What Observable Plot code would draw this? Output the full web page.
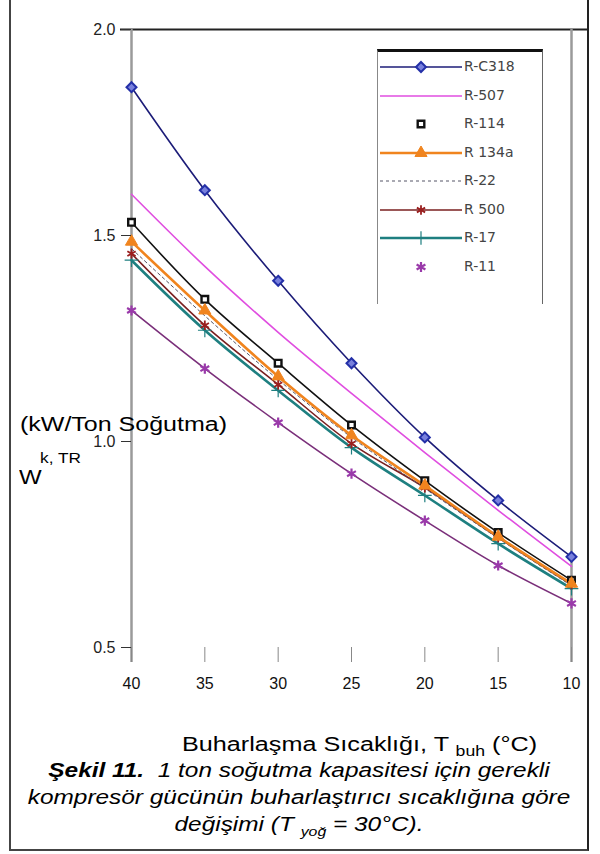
<!DOCTYPE html>
<html>
<head>
<meta charset="utf-8">
<script src="https://cdn.jsdelivr.net/npm/d3@7"></script>
<script src="https://cdn.jsdelivr.net/npm/@observablehq/plot@0.6"></script>
<style>
  html, body { margin: 0; padding: 0; background: #fff; }
  #wrap { position: relative; width: 600px; height: 854px; overflow: hidden; background: #fff; font-family: "Liberation Sans", Arial, sans-serif; }
  #frame { position: absolute; left: 9px; top: 0; width: 576px; height: 849px; border-left: 2px solid #444; border-right: 2px solid #222; border-bottom: 2px solid #444; box-sizing: content-box; }
  #chart { position: absolute; left: 0; top: 0; }
  .lbl { position: absolute; color: #000; white-space: nowrap; transform-origin: 0 0; }
  #legend { position: absolute; left: 377px; top: 49px; width: 164px; height: 252px; border-top: 3px solid #111; border-left: 1.5px solid #888; border-right: 1.5px solid #666; }
  .lg { position: absolute; left: 0; width: 164px; height: 20px; }
  .lg svg { position: absolute; left: 2px; top: 0; }
  .lg span { position: absolute; left: 86px; top: 1px; font-family: "DejaVu Sans", sans-serif; font-size: 14px; color: #444; white-space: nowrap; }
  #caption { position: absolute; left: 10px; width: 578px; top: 757px; text-align: center; font-size: 20px; line-height: 27px; font-style: italic; color: #000; }
  #caption div { white-space: nowrap; transform: scaleX(1.22); transform-origin: 50% 50%; }
</style>
</head>
<body>
<div id="wrap">
  <div id="frame"></div>
  <div id="chart"></div>
  <div id="legend"></div>
  <div class="lbl" style="left:20px; top:413px; font-size:20px; transform:scaleX(1.25);">(kW/Ton Soğutma)</div>
  <div class="lbl" style="left:40px; top:449px; font-size:15px; transform:scaleX(1.15);">k, TR</div>
  <div class="lbl" style="left:19px; top:466px; font-size:20px; transform:scaleX(1.2);">W</div>
  <div class="lbl" style="left:182px; top:733px; font-size:20px; transform:scaleX(1.26);">Buharlaşma Sıcaklığı, T <span style="font-size:14px; position:relative; top:5px;">buh</span> (°C)</div>
  <div id="caption">
    <div><b>Şekil 11.</b>&nbsp; 1 ton soğutma kapasitesi için gerekli</div>
    <div>kompresör gücünün buharlaştırıcı sıcaklığına göre</div>
    <div>değişimi (T <span style="font-size:13px; position:relative; top:5px;">yoğ</span> = 30°C).</div>
  </div>
</div>
<script>
// Evaporator temperatures (°C)
const temps = [-40, -35, -30, -25, -20, -15, -10];
const xTickLabels = ["40", "35", "30", "25", "20", "15", "10"];
const yTicks = [0.5, 1.0, 1.5, 2.0];

// Compressor power per ton of refrigeration (kW/TR)
const rC318 = [1.86, 1.61, 1.39, 1.19, 1.01, 0.857, 0.72];
const r507  = [1.60, 1.425, 1.265, 1.117, 0.973, 0.833, 0.697];
const r114  = [1.532, 1.345, 1.19, 1.04, 0.905, 0.779, 0.663];
const r134a = [1.485, 1.318, 1.158, 1.015, 0.893, 0.769, 0.655];
const r22   = [1.468, 1.305, 1.15, 1.01, 0.886, 0.765, 0.65];
const r500  = [1.456, 1.282, 1.138, 0.995, 0.888, 0.767, 0.653];
const r17   = [1.44, 1.27, 1.124, 0.985, 0.869, 0.752, 0.643];
const r11   = [1.318, 1.177, 1.046, 0.922, 0.808, 0.699, 0.607];

const seriesNames = ["R-C318", "R-507", "R-114", "R 134a", "R-22", "R 500", "R-17", "R-11"];
const seriesValues = [rC318, r507, r114, r134a, r22, r500, r17, r11];

// styles (not data)
const styles = {
  "R-C318": {line: "#1c1c78", width: 1.6, symbol: "diamond2", mstroke: "#2430a8", mfill: "#7880dd", r: 4.5, msw: 2},
  "R-507":  {line: "#e04ee0", width: 1.6, symbol: null},
  "R-114":  {line: "#111111", width: 1.6, symbol: "square2", mstroke: "#111", mfill: "#fff", r: 4.2, msw: 2.4, legendLine: false},
  "R 134a": {line: "#f0841e", width: 2.6, symbol: "triangle", mstroke: "#f0841e", mfill: "#f0841e", r: 4.5, msw: 1},
  "R-22":   {line: "#555566", width: 1, dash: "3,3", symbol: null},
  "R 500":  {line: "#7a1f1f", width: 1.6, symbol: "asterisk", mstroke: "#9a1f1f", mfill: "none", r: 4.5, msw: 1.8},
  "R-17":   {line: "#1e7f80", width: 2.6, symbol: "plus", mstroke: "#1e7f80", mfill: "none", r: 4.5, msw: 1.2},
  "R-11":   {line: "#7a2f7a", width: 1.6, symbol: "asterisk", mstroke: "#9a3aaa", mfill: "none", r: 4.8, msw: 2.2, legendLine: false}
};

const rows = [];
seriesNames.forEach((name, i) => {
  seriesValues[i].forEach((v, j) => rows.push({series: name, t: temps[j], v}));
});

const drawOrder = ["R-C318", "R-507", "R-11", "R-17", "R 500", "R-22", "R-114", "R 134a"];
const marks = [];

// axis frame lines
marks.push(Plot.ruleY([2.0], {stroke: "#222", strokeWidth: 2, insetLeft: -11, insetRight: -18}));
marks.push(Plot.ruleX([-40, -10], {stroke: "#9a9a9a", strokeWidth: 2.5, insetBottom: -15}));

for (const name of drawOrder) {
  const s = styles[name];
  marks.push(Plot.line(rows.filter(d => d.series === name), {
    x: "t", y: "v", stroke: s.line, strokeWidth: s.width, strokeDasharray: s.dash, curve: "catmull-rom"
  }));
}
for (const name of drawOrder) {
  const s = styles[name];
  if (!s.symbol) continue;
  marks.push(Plot.dot(rows.filter(d => d.series === name), {
    x: "t", y: "v", symbol: () => s.symbol, r: s.r, stroke: s.mstroke, fill: s.mfill, strokeWidth: s.msw
  }));
}

marks.push(Plot.axisY(yTicks, {
  label: null, tickSize: 10, tickPadding: 6, tickFormat: d3.format(".1f"), fontSize: 16, fill: "#222", stroke: "#333",
  fontFamily: "Liberation Sans, Arial, sans-serif"
}));
marks.push(Plot.axisX(temps, {
  label: null, tickSize: 15, tickPadding: 15, fontSize: 16, fill: "#111", stroke: "#888",
  tickFormat: (d) => xTickLabels[temps.indexOf(d)],
  fontFamily: "Liberation Sans, Arial, sans-serif"
}));

const chart = Plot.plot({
  width: 600,
  height: 700,
  marginLeft: 131,
  marginRight: 29,
  marginTop: 29,
  marginBottom: 53,
  x: {domain: [-40, -10], label: null},
  y: {domain: [0.5, 2.0], label: null},
  style: {background: "transparent", overflow: "visible"},
  marks
});
document.getElementById("chart").appendChild(chart);

// legend
const legend = d3.select("#legend");
const symMap = {diamond2: d3.symbolDiamond2, square2: d3.symbolSquare2, triangle: d3.symbolTriangle, asterisk: d3.symbolAsterisk, plus: d3.symbolPlus};
seriesNames.forEach((name, i) => {
  const s = styles[name];
  const row = legend.append("div").attr("class", "lg").style("top", (5 + i * 28.5) + "px");
  const svg = row.append("svg").attr("width", 82).attr("height", 20);
  if (s.legendLine !== false) {
    svg.append("line").attr("x1", 0).attr("x2", 82).attr("y1", 10).attr("y2", 10)
      .attr("stroke", s.line).attr("stroke-width", s.width).attr("stroke-dasharray", s.dash || null);
  }
  if (s.symbol) {
    svg.append("path").attr("transform", "translate(41,10)")
      .attr("d", d3.symbol(symMap[s.symbol], Math.PI * s.r * s.r)())
      .attr("fill", s.mfill).attr("stroke", s.mstroke).attr("stroke-width", s.msw);
  }
  row.append("span").text(name);
});
</script>
</body>
</html>
